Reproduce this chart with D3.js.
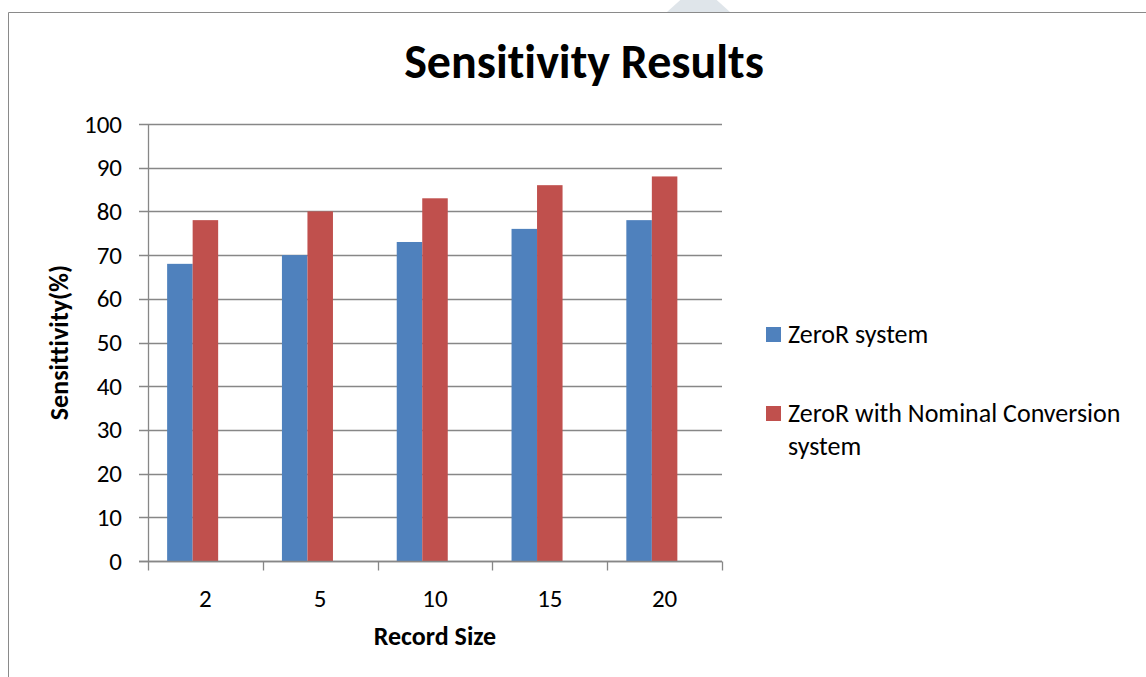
<html>
<head>
<style>
  body { margin: 0; background: #fff; }
  text { font-family: Carlito, Lato, "Open Sans", sans-serif; fill: #000; font-variant-ligatures: none; }
</style>
</head>
<body>
<svg id="chart" width="1146" height="677"></svg>
<script src="https://d3js.org/d3.v7.min.js"></script>
<script>
// data
var categories = ["2", "5", "10", "15", "20"];
var seriesNames = ["ZeroR system", "ZeroR with Nominal Conversion system"];
var zeroR = [68, 70, 73, 76, 78];
var zeroRNominal = [78, 80, 83, 86, 88];
var yTicks = [0, 10, 20, 30, 40, 50, 60, 70, 80, 90, 100];
var colors = ["#4F81BD", "#C0504D"];

var seriesValues = [zeroR, zeroRNominal];

var svg = d3.select("#chart");

// outer chart frame (only left and top visible in the crop)
svg.append("path")
  .attr("d", "M8.5,677 V12.5 H1146")
  .attr("fill", "none")
  .attr("stroke", "#8a8a8a")
  .attr("stroke-width", 1);

// faint watermark shape at the top
svg.append("polygon")
  .attr("points", "667,12 730,12 710,-6 687,-6")
  .attr("fill", "#dfe5ea");

var margin = {top: 124, left: 148},
    width = 722 - 148,
    height = 561 - 124;

var g = svg.append("g")
  .attr("transform", "translate(" + margin.left + "," + margin.top + ")");

var x0 = d3.scaleBand().domain(categories).range([0, width]).padding(0);
// excel gap width 150% with three slots per category
var slot = x0.bandwidth() / 4.5;
var x1 = d3.scaleBand().domain(seriesNames).range([0.75 * slot, 2.75 * slot]);

var y = d3.scaleLinear().domain([0, 100]).range([height, 0]);

// gridlines
g.append("g")
  .selectAll("line")
  .data(yTicks)
  .enter()
  .append("line")
  .attr("x1", -9)
  .attr("x2", width)
  .attr("y1", function(d) { return Math.round(y(d)) + 0.5; })
  .attr("y2", function(d) { return Math.round(y(d)) + 0.5; })
  .attr("stroke", "#878787")
  .attr("stroke-width", 1.3);

// y tick labels
var yAxis = g.append("g")
  .call(d3.axisLeft(y).tickValues(yTicks).tickSize(0).tickPadding(26));
yAxis.select(".domain").remove();
yAxis.selectAll("text")
  .style("font-family", "Carlito, Lato, 'Open Sans', sans-serif")
  .style("font-size", "25px")
  .attr("fill", "#000");

// bars
var rows = categories.map(function(c, i) {
  return {cat: c, vals: seriesNames.map(function(s, j) { return {name: s, value: seriesValues[j][i], idx: j}; })};
});

g.selectAll(".grp")
  .data(rows)
  .enter()
  .append("g")
  .attr("class", "grp")
  .attr("transform", function(d) { return "translate(" + x0(d.cat) + ",0)"; })
  .selectAll("rect")
  .data(function(d) { return d.vals; })
  .enter()
  .append("rect")
  .attr("x", function(d) { return x1(d.name); })
  .attr("y", function(d) { return y(d.value); })
  .attr("width", x1.bandwidth())
  .attr("height", function(d) { return height - y(d.value); })
  .attr("fill", function(d) { return colors[d.idx]; });

// y axis line
g.append("line")
  .attr("x1", 0.5).attr("x2", 0.5)
  .attr("y1", 0).attr("y2", height)
  .attr("stroke", "#878787")
  .attr("stroke-width", 1.3);

// x axis
var xAxis = g.append("g")
  .attr("transform", "translate(0," + (Math.round(height) + 0.5) + ")");
xAxis.append("line")
  .attr("x1", -9).attr("x2", width)
  .attr("stroke", "#878787").attr("stroke-width", 1.3);
var xEdges = categories.map(function(c) { return x0(c); }).concat([width]);
xAxis.selectAll(".tk")
  .data(xEdges)
  .enter()
  .append("line")
  .attr("class", "tk")
  .attr("x1", function(d) { return Math.round(d) + 0.5; })
  .attr("x2", function(d) { return Math.round(d) + 0.5; })
  .attr("y1", 0).attr("y2", 9)
  .attr("stroke", "#878787").attr("stroke-width", 1.3);
xAxis.selectAll(".lbl")
  .data(categories)
  .enter()
  .append("text")
  .attr("class", "lbl")
  .attr("x", function(d) { return x0(d) + x0.bandwidth() / 2; })
  .attr("y", 45)
  .attr("text-anchor", "middle")
  .style("font-size", "25px")
  .text(function(d) { return d; });

// axis titles
svg.append("text")
  .attr("x", 435)
  .attr("y", 645)
  .attr("text-anchor", "middle")
  .style("font-size", "26px")
  .style("font-weight", "bold")
  .text("Record Size");

svg.append("text")
  .attr("transform", "translate(68," + (margin.top + height / 2) + ") rotate(-90)")
  .attr("text-anchor", "middle")
  .style("font-size", "26px")
  .style("font-weight", "bold")
  .text("Sensittivity(%)");

// title
svg.append("text")
  .attr("x", 584)
  .attr("y", 78)
  .attr("text-anchor", "middle")
  .style("font-size", "48px")
  .style("font-weight", "bold")
  .text("Sensitivity Results");

// legend
var legend = svg.append("g");
var legendRows = [
  {lines: ["ZeroR system"], y: 327},
  {lines: ["ZeroR with Nominal Conversion", "system"], y: 406}
];
legendRows.forEach(function(r, i) {
  legend.append("rect")
    .attr("x", 766).attr("y", r.y)
    .attr("width", 15).attr("height", 15)
    .attr("fill", colors[i]);
  var t = legend.append("text")
    .attr("x", 788)
    .attr("y", r.y + 16)
    .style("font-size", "26px");
  r.lines.forEach(function(line, k) {
    t.append("tspan")
      .attr("x", 788)
      .attr("dy", k === 0 ? 0 : 33)
      .text(line);
  });
});
</script>
</body>
</html>
